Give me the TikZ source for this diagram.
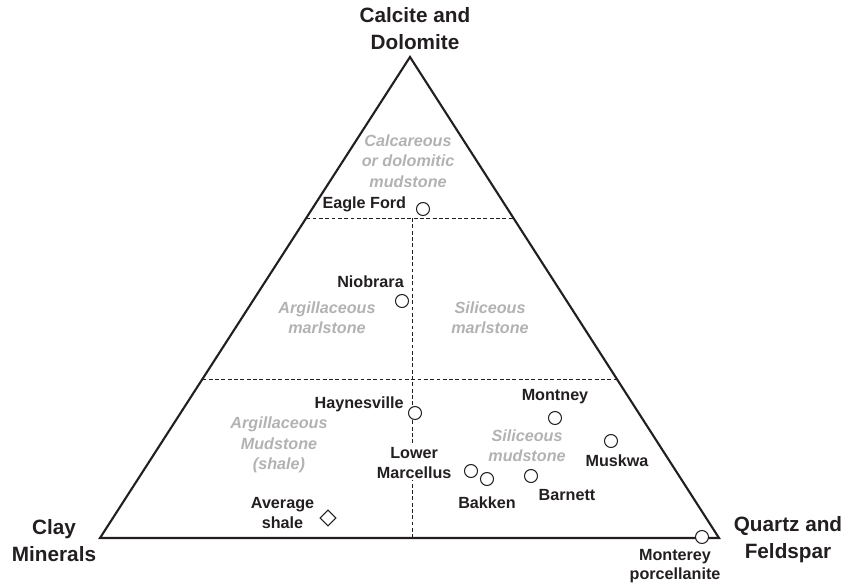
\documentclass[tikz,border=0pt]{standalone}
\usepackage{fontspec}
\setmainfont{Liberation Sans}
\usetikzlibrary{positioning,shapes.geometric,calc}
\definecolor{inkgray}{RGB}{35,31,32}
\definecolor{zonegray}{RGB}{178,178,178}
\tikzset{
  sample/.style={circle, draw=inkgray, fill=white, line width=0.6pt,
    minimum size=0.26cm, inner sep=0pt},
  samplelabel/.style={font=\fontsize{9.2}{11.3}\selectfont\bfseries,
    text=inkgray, align=center, inner sep=0pt},
  zonelabel/.style={font=\fontsize{9.2}{11.6}\selectfont\bfseries\itshape,
    text=zonegray, align=center, inner sep=0pt},
  endmember/.style={font=\fontsize{11.8}{15.3}\selectfont\bfseries,
    text=inkgray, align=center, inner sep=0pt},
  boundary/.style={draw=inkgray, line width=0.5pt, dash pattern=on 2.2pt off 1.4pt}
}

\begin{document}
\begin{tikzpicture}[x=0.02cm, y=-0.02cm]
        \useasboundingbox (0,0) rectangle (846,583);
        % corners of the ternary plot
        \coordinate (carbv) at (410,57);
        \coordinate (clayv) at (100,538);
        \coordinate (qtzv) at (719,538);
        % zone boundaries
        \coordinate (upl) at ($(carbv)!0.3347!(clayv)$);
        \coordinate (upr) at ($(carbv)!0.3347!(qtzv)$);
        \coordinate (lol) at ($(carbv)!0.6694!(clayv)$);
        \coordinate (lor) at ($(carbv)!0.6694!(qtzv)$);
        \coordinate (midtop) at (412,218);
        \coordinate (midbot) at (412,538);
        \draw[boundary] (upl) -- (upr);
        \draw[boundary] (lol) -- (lor);
        \draw[boundary] (midtop) -- (midbot);
        \draw[draw=inkgray, line width=1.2pt, line join=miter] (carbv) -- (clayv) -- (qtzv) -- cycle;
        % end members
        \node[endmember] (carb) at (415,29) {Calcite and\\Dolomite};
        \node[endmember] (clay) at (54,541) {Clay\\Minerals};
        \node[endmember] (qtz) at (788,540) {Quartz and\\Feldspar};
        % zones
        \node[zonelabel] (calcz) at (408,161) {Calcareous\\or dolomitic\\mudstone};
        \node[zonelabel] (argmz) at (327,318) {Argillaceous\\marlstone};
        \node[zonelabel] (silmz) at (490,318) {Siliceous\\marlstone};
        \node[zonelabel] (argdz) at (279,445) {Argillaceous\\Mudstone\\(shale)};
        \node[zonelabel] (sildz) at (527,446) {Siliceous\\mudstone};
        % samples
        \node[sample] (egf) at (423,209) {};
        \node[sample] (nio) at (402,301) {};
        \node[sample] (hay) at (415,413) {};
        \node[sample] (lmc) at (471,471) {};
        \node[sample] (bak) at (487,479) {};
        \node[sample] (bar) at (531,476) {};
        \node[sample] (mon) at (555,418) {};
        \node[sample] (musk) at (611,441) {};
        \node[sample] (mnt) at (702,537) {};
        \node[diamond, draw=inkgray, fill=white, line width=0.6pt,
          minimum size=0.32cm, inner sep=0pt] (avg) at (328,518) {};
        \node[samplelabel, left=0.19cm of egf, yshift=0.1cm] (egflab) {Eagle Ford};
        \node[samplelabel, above=0.11cm of nio, xshift=-0.63cm] (niolab) {Niobrara};
        \node[samplelabel, left=0.08cm of hay, yshift=0.18cm] (haylab) {Haynesville};
        \node[samplelabel, fill=white, inner sep=1pt, left=0.21cm of lmc, yshift=0.16cm] (lmclab) {Lower\\Marcellus};
        \node[samplelabel, below=0.2cm of bak] (baklab) {Bakken};
        \node[samplelabel, below=0.12cm of bar, xshift=0.72cm] (barlab) {Barnett};
        \node[samplelabel, above=0.14cm of mon] (monlab) {Montney};
        \node[samplelabel, below=0.13cm of musk, xshift=0.12cm] (musklab) {Muskwa};
        \node[samplelabel, below=0.09cm of mnt, xshift=-0.54cm] (mntlab) {Monterey\\porcellanite};
        \node[samplelabel, left=0.1cm of avg, yshift=0.1cm] (avglab) {Average\\shale};
    \end{tikzpicture}
\end{document}
